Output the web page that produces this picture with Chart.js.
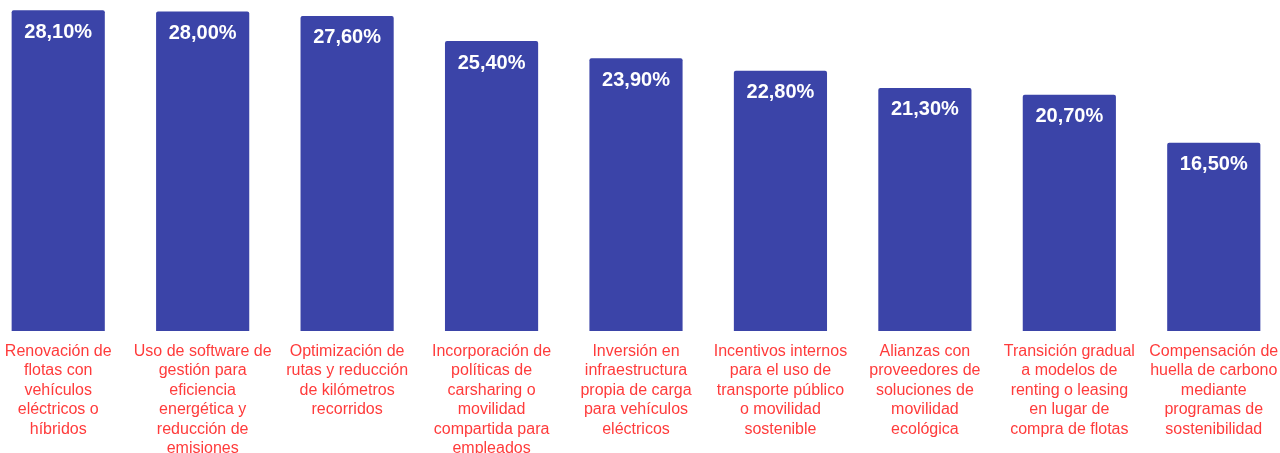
<!DOCTYPE html>
<html>
<head>
<meta charset="utf-8">
<script src="https://cdn.jsdelivr.net/npm/chart.js@4.4.1/dist/chart.umd.min.js"></script>
<style>
  html, body { margin: 0; padding: 0; background: #fff; overflow: hidden; }
  #wrap { position: absolute; left: -14px; top: 0; width: 1300px; height: 453px; }
</style>
</head>
<body>
<div id="wrap"><canvas id="chart"></canvas></div>
<script>
const categories = [
  ["Renovación de", "flotas con", "vehículos", "eléctricos o", "híbridos"],
  ["Uso de software de", "gestión para", "eficiencia", "energética y", "reducción de", "emisiones"],
  ["Optimización de", "rutas y reducción", "de kilómetros", "recorridos"],
  ["Incorporación de", "políticas de", "carsharing o", "movilidad", "compartida para", "empleados"],
  ["Inversión en", "infraestructura", "propia de carga", "para vehículos", "eléctricos"],
  ["Incentivos internos", "para el uso de", "transporte público", "o movilidad", "sostenible"],
  ["Alianzas con", "proveedores de", "soluciones de", "movilidad", "ecológica"],
  ["Transición gradual", "a modelos de", "renting o leasing", "en lugar de", "compra de flotas"],
  ["Compensación de", "huella de carbono", "mediante", "programas de", "sostenibilidad"],
];
const values = [28.1, 28.0, 27.6, 25.4, 23.9, 22.8, 21.3, 20.7, 16.5];

const barColor = "#3b44a8";
const labelRed = "#ff3b3b";

function fmt(v) {
  return v.toFixed(2).replace(".", ",") + "%";
}

const valueLabels = {
  id: "valueLabels",
  afterDatasetsDraw(chart) {
    const ctx = chart.ctx;
    const meta = chart.getDatasetMeta(0);
    ctx.save();
    ctx.fillStyle = "#ffffff";
    ctx.font = "bold 20px 'Liberation Sans', Arial, sans-serif";
    ctx.textAlign = "center";
    ctx.textBaseline = "middle";
    meta.data.forEach((bar, i) => {
      ctx.fillText(fmt(values[i]), bar.x, bar.y + 22);
    });
    ctx.restore();
  },
};

new Chart(document.getElementById("chart"), {
  type: "bar",
  data: {
    labels: categories,
    datasets: [{
      data: values,
      backgroundColor: barColor,
      borderRadius: 2,
      borderSkipped: "bottom",
      barPercentage: 0.645,
      categoryPercentage: 1,
    }],
  },
  options: {
    responsive: true,
    maintainAspectRatio: false,
    animation: false,
    layout: { padding: 0 },
    plugins: { legend: { display: false }, tooltip: { enabled: false } },
    scales: {
      x: {
        grid: { display: false },
        border: { display: false },
        ticks: {
          autoSkip: false,
          maxRotation: 0,
          minRotation: 0,
          padding: 3,
          color: labelRed,
          font: { family: "'Liberation Sans', Arial, sans-serif", size: 16, lineHeight: 1.21 },
        },
        afterFit(scale) { scale.height = 122; },
      },
      y: {
        display: false,
        min: 0,
        max: 29,
      },
    },
  },
  plugins: [valueLabels],
});
</script>
</body>
</html>
